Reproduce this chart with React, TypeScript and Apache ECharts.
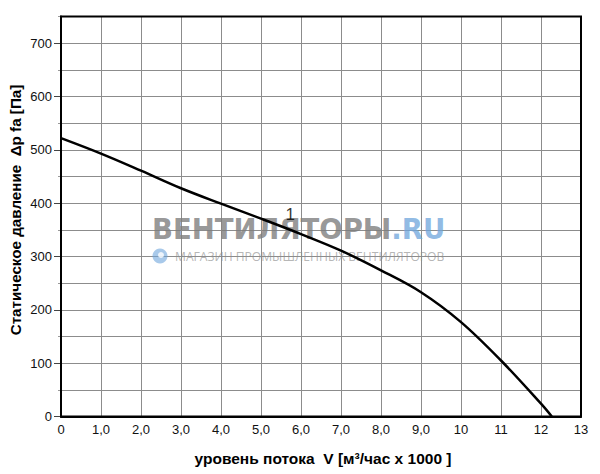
import React, { useEffect, useRef } from "react";
import * as echarts from "echarts";

const flowValues = [0, 1, 2, 3, 4, 5, 6, 7, 8, 9, 10, 11, 12, 12.27];
const pressureValues = [522, 493, 461, 428, 399, 371, 342, 311, 274, 233, 177, 105, 24, 0];
const curveLabel = "1";
const curveLabelAt = [5.73, 378];
const yTitle = "Статическое давление  Δp fa [Па]";
const xTitle = "уровень потока  V [м³/час x 1000 ]";
const brandMain = "ВЕНТИЛЯТОРЫ";
const brandTail = ".RU";
const brandSub = "МАГАЗИН ПРОМЫШЛЕННЫХ ВЕНТИЛЯТОРОВ";

const FONT = "'Liberation Sans', Arial, sans-serif";

export default function App() {
  const ref = useRef<HTMLDivElement>(null);
  useEffect(() => {
    if (!ref.current) return;
    const chart = echarts.init(ref.current, undefined, { renderer: "svg" });
    const top = 16.5;
    const bottom = 474 - 416.5;
    const left = 61;
    const right = 600 - 581;
    const top2 = top + (50 / 750) * (416.5 - 16.5);
    const xFmt = (v: number) =>
      v > 0 && v < 10 ? v.toFixed(1).replace(".", ",") : String(v);
    chart.setOption({
      animation: false,
      backgroundColor: "#fff",
      grid: [
        { left, right, top, bottom, show: true, borderColor: "#000", borderWidth: 2, z: 5 },
        { left, right, top: top2, bottom, show: false },
      ],
      xAxis: [
        {
          gridIndex: 0,
          type: "value",
          min: 0,
          max: 13,
          interval: 1,
          axisLine: { show: true, lineStyle: { color: "#000", width: 2 } },
          axisTick: { show: false },
          axisLabel: {
            color: "#111",
            fontSize: 13,
            fontFamily: FONT,
            margin: 6,
            formatter: xFmt,
          },
          splitLine: { show: true, lineStyle: { color: "#8c8c8c", width: 1 } },
        },
        {
          gridIndex: 1,
          type: "value",
          min: 0,
          max: 13,
          show: false,
        },
      ],
      yAxis: [
        {
          gridIndex: 0,
          type: "value",
          min: 0,
          max: 750,
          interval: 50,
          axisLine: { show: true, lineStyle: { color: "#000", width: 2 } },
          axisTick: { show: true, length: 3, lineStyle: { color: "#999", width: 1 } },
          axisLabel: { show: false },
          splitLine: { show: true, lineStyle: { color: "#8c8c8c", width: 1 } },
        },
        {
          gridIndex: 1,
          type: "value",
          min: 0,
          max: 700,
          interval: 100,
          axisLine: { show: false },
          axisTick: { show: true, length: 7, lineStyle: { color: "#444", width: 1 } },
          axisLabel: {
            color: "#111",
            fontSize: 13,
            fontFamily: FONT,
            margin: 9,
          },
          splitLine: { show: false },
        },
      ],
      graphic: [
        {
          type: "text",
          x: 15,
          y: 210,
          rotation: Math.PI / 2,
          style: {
            text: yTitle,
            fontSize: 15.2,
            fontWeight: "bold",
            fontFamily: FONT,
            fill: "#000",
            align: "center",
            verticalAlign: "middle",
          },
        },
        {
          type: "text",
          x: 323,
          y: 458,
          style: {
            text: xTitle,
            fontSize: 15.5,
            fontWeight: "bold",
            fontFamily: FONT,
            fill: "#000",
            align: "center",
            verticalAlign: "middle",
          },
        },
        {
          type: "text",
          x: 152,
          y: 229,
          z: 1,
          style: {
            text: `{a|${brandMain}}{b|${brandTail}}`,
            align: "left",
            verticalAlign: "middle",
            rich: {
              a: { fontSize: 27.5, fontWeight: "bold", fontFamily: "'DejaVu Sans', sans-serif", fill: "rgba(125,125,125,0.8)" },
              b: { fontSize: 27.5, fontWeight: "bold", fontFamily: "'DejaVu Sans', sans-serif", fill: "rgba(110,165,220,0.75)" },
            },
          },
        },
        {
          type: "circle",
          z: 1,
          shape: { cx: 160, cy: 256, r: 7.5 },
          style: { fill: "rgba(110,165,220,0.6)" },
        },
        {
          type: "circle",
          z: 1,
          shape: { cx: 161, cy: 255, r: 3 },
          style: { fill: "rgba(255,255,255,0.8)" },
        },
        {
          type: "text",
          x: 175,
          y: 256,
          z: 1,
          style: {
            text: brandSub,
            fontSize: 12.1,
            fontFamily: "'Open Sans', sans-serif",
            fill: "rgba(140,140,140,0.65)",
            align: "left",
            verticalAlign: "middle",
          },
        },
      ],
      series: [
        {
          type: "line",
          xAxisIndex: 0,
          yAxisIndex: 0,
          data: flowValues.map((x, i) => [x, pressureValues[i]]),
          smooth: 0.35,
          showSymbol: false,
          z: 10,
          lineStyle: { color: "#000", width: 2.5 },
        },
        {
          type: "scatter",
          xAxisIndex: 0,
          yAxisIndex: 0,
          data: [curveLabelAt],
          symbolSize: 0,
          z: 11,
          label: {
            show: true,
            position: "inside",
            formatter: curveLabel,
            fontSize: 17,
            fontFamily: FONT,
            color: "#000",
          },
        },
      ],
    });
    return () => chart.dispose();
  }, []);
  return (
    <div
      ref={ref}
      style={{ position: "absolute", left: 0, top: 0, width: 600, height: 474 }}
    />
  );
}
